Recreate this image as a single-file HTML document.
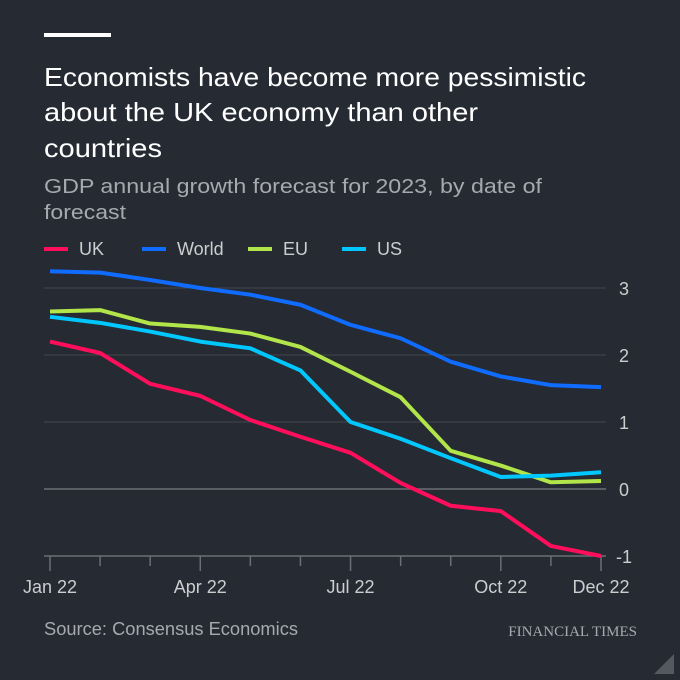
<!DOCTYPE html>
<html><head><meta charset="utf-8"><style>
body{margin:0;background:#262a33;width:680px;height:680px;overflow:hidden;font-family:"Liberation Sans",sans-serif}
</style></head><body>
<svg width="680" height="680" style="position:absolute;left:0;top:0">
<rect x="44" y="33" width="67" height="4" fill="#fff"/>
<text x="44" y="86" fill="#fff" font-size="26" textLength="542" lengthAdjust="spacingAndGlyphs">Economists have become more pessimistic</text>
<text x="44" y="121" fill="#fff" font-size="26" textLength="434" lengthAdjust="spacingAndGlyphs">about the UK economy than other</text>
<text x="44" y="157" fill="#fff" font-size="26" textLength="118" lengthAdjust="spacingAndGlyphs">countries</text>
<text x="44" y="193" fill="#a7a9ae" font-size="20" textLength="498" lengthAdjust="spacingAndGlyphs">GDP annual growth forecast for 2023, by date of</text>
<text x="44" y="219" fill="#a7a9ae" font-size="20" textLength="82" lengthAdjust="spacingAndGlyphs">forecast</text>
<g id="legend"></g>
<g id="grid"></g><g id="lines"></g>
<text x="44" y="635" fill="#a7a9ae" font-size="18" textLength="254" lengthAdjust="spacingAndGlyphs">Source: Consensus Economics</text>
<text x="637" y="636" fill="#a7a9ae" font-size="15" text-anchor="end" font-family="Liberation Serif,serif">FINANCIAL TIMES</text>
<polygon points="674,654 674,674 654,674" fill="#55585f"/>
</svg>
<script>
const months=["Jan","Feb","Mar","Apr","May","Jun","Jul","Aug","Sep","Oct","Nov","Dec"];
const xLabels=["Jan 22","Apr 22","Jul 22","Oct 22","Dec 22"];
const xLabelIdx=[0,3,6,9,11];
const yTicks=[3,2,1,0,-1];
const seriesNames=["UK","World","EU","US"];
const seriesColors=["#ff0f5b","#0f6cff","#b1e54a","#00c8ff"];
const uk=[2.2,2.03,1.57,1.39,1.03,0.78,0.54,0.09,-0.25,-0.33,-0.85,-1.0];
const world=[3.25,3.23,3.12,3.0,2.9,2.75,2.45,2.25,1.9,1.68,1.55,1.52];
const eu=[2.65,2.67,2.47,2.42,2.32,2.12,1.75,1.37,0.57,0.35,0.1,0.12];
const us=[2.57,2.48,2.35,2.2,2.1,1.77,1.0,0.75,0.46,0.18,0.2,0.25];
const data=[uk,world,eu,us];
const NS="http://www.w3.org/2000/svg";
const x=i=>50+i*(551/11);
const y=v=>489-v*67;
function mk(t,a,p){const e=document.createElementNS(NS,t);for(const k in a)e.setAttribute(k,a[k]);p.appendChild(e);return e;}
const grid=document.getElementById('grid');
yTicks.forEach(v=>{
 const l=mk('line',{x1:44,x2:606,y1:y(v),y2:y(v),stroke:v===0||v===-1?'#6b6e75':'#43474f','stroke-width':v===0||v===-1?1.5:1},grid);
 
 
 const t=mk('text',{x:624,y:y(v)+7,fill:'#cccdce','font-size':18,'text-anchor':'middle'},grid);t.textContent=v;
 
 
});
months.forEach((m,i)=>{
 const l=mk('line',{x1:x(i),x2:x(i),y1:y(-1),y2:y(-1)+(xLabelIdx.includes(i)?15:10),stroke:'#6b6e75','stroke-width':1.5},grid);
 
 
});
xLabels.forEach((s,k)=>{
 const t=mk('text',{x:x(xLabelIdx[k]),y:593,fill:'#cccdce','font-size':18,'text-anchor':'middle'},grid);t.textContent=s;
 
 
});
const lines=document.getElementById('lines');
[1,2,3,0].forEach(s=>{
 const p=mk('polyline',{points:data[s].map((v,i)=>x(i)+','+y(v)).join(' '),fill:'none',stroke:seriesColors[s],'stroke-width':4,'stroke-linejoin':'round'},lines);
 
 
});
const lg=document.getElementById('legend');
const lx=[44,142,248,342];
seriesNames.forEach((n,i)=>{
 const r=mk('rect',{x:lx[i],y:247,width:24,height:4,fill:seriesColors[i]},lg);
 
 
 const t=mk('text',{x:lx[i]+35,y:255,fill:'#cccdce','font-size':18},lg);t.textContent=n;
 
 
});
</script>
</body></html>
